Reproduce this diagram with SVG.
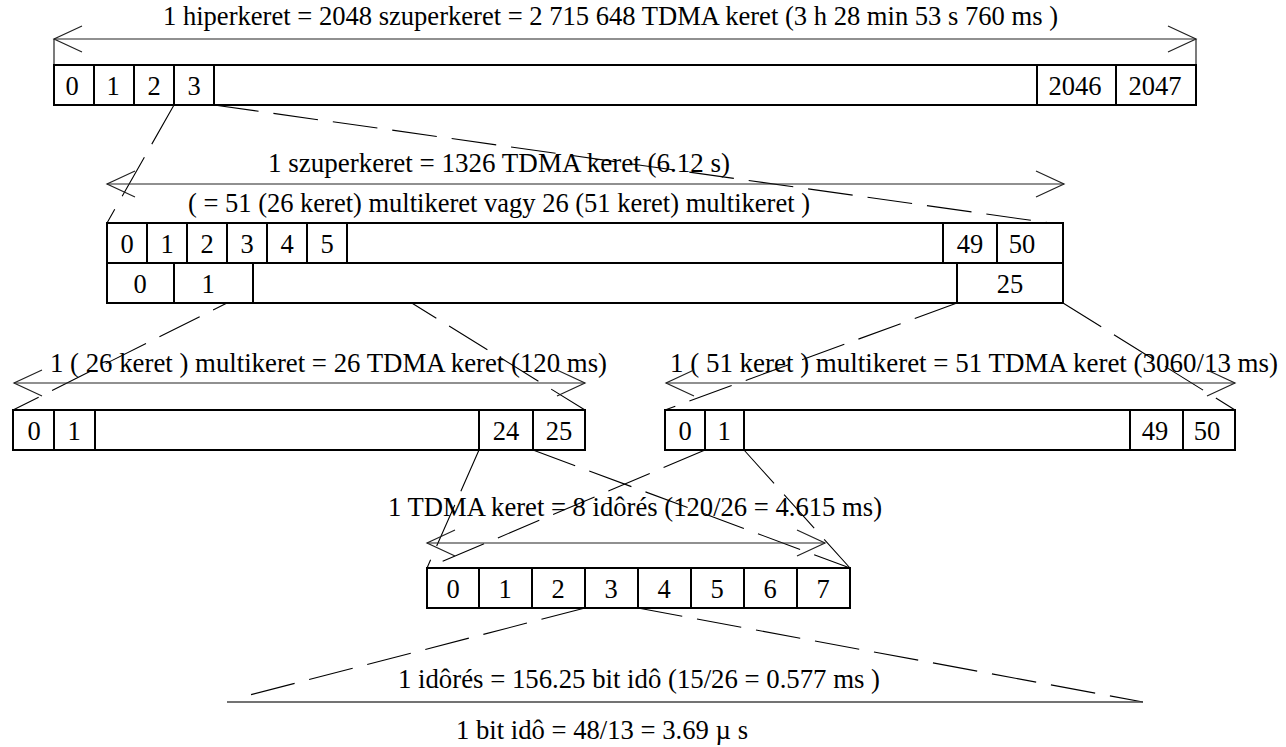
<svg xmlns="http://www.w3.org/2000/svg" width="1286" height="747" viewBox="0 0 1286 747">
<style>
  .t { font-family: 'Liberation Serif', 'Times New Roman', Times, 'DejaVu Serif', serif; font-size: 26.5px; fill: #000; }
  .c { text-anchor: middle; }
  .box { fill: #fff; stroke: #000; stroke-width: 2; }
  .div { stroke: #000; stroke-width: 2; }
  .arr { stroke: #222; stroke-width: 1.2; fill: none; marker-start: url(#head); marker-end: url(#head); }
  .thin { stroke: #222; stroke-width: 1.2; fill: none; }
  .dash { stroke: #000; stroke-width: 1.1; fill: none; stroke-dasharray: 45 15; }
</style>
<defs>
  <marker id="head" markerUnits="userSpaceOnUse" viewBox="-30 -15 32 30" refX="0" refY="0" markerWidth="32" markerHeight="30" orient="auto-start-reverse">
    <path d="M-28,-13 L0,0 L-28,13" fill="none" stroke="#222" stroke-width="1.2"/>
  </marker>
</defs>
<rect width="1286" height="747" fill="#fff"/>

<g id="connectors">
  <line class="dash" x1="174" y1="105" x2="107" y2="223"/>
  <line class="dash" x1="214" y1="105" x2="1050" y2="223"/>
  <line class="dash" x1="307" y1="263" x2="13" y2="410"/>
  <line class="dash" x1="347" y1="263" x2="585" y2="410"/>
  <line class="dash" x1="957" y1="303" x2="665" y2="410"/>
  <line class="dash" x1="1063" y1="303" x2="1235" y2="410"/>
  <line class="dash" x1="479" y1="450" x2="427" y2="568"/>
  <line class="dash" x1="533" y1="450" x2="850" y2="568"/>
  <line class="dash" x1="705" y1="450" x2="427" y2="568"/>
  <line class="dash" x1="744" y1="450" x2="850" y2="568"/>
  <line class="dash" x1="585" y1="608" x2="242" y2="697"/>
  <line class="dash" x1="638" y1="608" x2="1143" y2="702"/>
</g>

<g id="hyperframe" font-family="Liberation Serif, serif">
  <text class="t" x="163" y="25" textLength="895" lengthAdjust="spacingAndGlyphs">1 hiperkeret = 2048 szuperkeret = 2 715 648 TDMA keret (3 h 28 min 53 s 760 ms )</text>
  <line class="arr" x1="54" y1="39" x2="1196" y2="39"/>
  <line class="thin" x1="54" y1="39" x2="54" y2="65"/>
  <line class="thin" x1="1196" y1="39" x2="1196" y2="65"/>
  <rect class="box" x="54" y="65" width="1142" height="40"/>
  <line class="div" x1="94" y1="65" x2="94" y2="105"/>
  <line class="div" x1="134" y1="65" x2="134" y2="105"/>
  <line class="div" x1="174" y1="65" x2="174" y2="105"/>
  <line class="div" x1="214" y1="65" x2="214" y2="105"/>
  <line class="div" x1="1037" y1="65" x2="1037" y2="105"/>
  <line class="div" x1="1116" y1="65" x2="1116" y2="105"/>
  <text class="t c" x="72" y="95">0</text>
  <text class="t c" x="113" y="95">1</text>
  <text class="t c" x="154" y="95">2</text>
  <text class="t c" x="194" y="95">3</text>
  <text class="t c" x="1075" y="95">2046</text>
  <text class="t c" x="1155" y="95">2047</text>
</g>

<g id="superframe" font-family="Liberation Serif, serif">
  <text class="t" x="268" y="172" textLength="462" lengthAdjust="spacingAndGlyphs">1 szuperkeret = 1326 TDMA keret (6.12 s)</text>
  <line class="arr" x1="107" y1="184" x2="1064" y2="184"/>
  <text class="t" x="188" y="212" textLength="622" lengthAdjust="spacingAndGlyphs">( = 51 (26 keret) multikeret vagy 26 (51 keret) multikeret )</text>
  <rect class="box" x="107" y="223" width="956" height="80"/>
  <line class="div" x1="107" y1="263" x2="1063" y2="263"/>
  <line class="div" x1="147" y1="223" x2="147" y2="263"/>
  <line class="div" x1="187" y1="223" x2="187" y2="263"/>
  <line class="div" x1="227" y1="223" x2="227" y2="263"/>
  <line class="div" x1="267" y1="223" x2="267" y2="263"/>
  <line class="div" x1="307" y1="223" x2="307" y2="263"/>
  <line class="div" x1="347" y1="223" x2="347" y2="263"/>
  <line class="div" x1="943" y1="223" x2="943" y2="263"/>
  <line class="div" x1="997" y1="223" x2="997" y2="263"/>
  <line class="div" x1="174" y1="263" x2="174" y2="303"/>
  <line class="div" x1="253" y1="263" x2="253" y2="303"/>
  <line class="div" x1="957" y1="263" x2="957" y2="303"/>
  <text class="t c" x="127" y="253">0</text>
  <text class="t c" x="167" y="253">1</text>
  <text class="t c" x="207" y="253">2</text>
  <text class="t c" x="247" y="253">3</text>
  <text class="t c" x="287" y="253">4</text>
  <text class="t c" x="327" y="253">5</text>
  <text class="t c" x="970" y="253">49</text>
  <text class="t c" x="1022" y="253">50</text>
  <text class="t c" x="140" y="293">0</text>
  <text class="t c" x="208" y="293">1</text>
  <text class="t c" x="1010" y="293">25</text>
</g>

<g id="multiframe26" font-family="Liberation Serif, serif">
  <text class="t" x="50" y="372" textLength="557" lengthAdjust="spacingAndGlyphs">1 ( 26 keret ) multikeret = 26 TDMA keret (120 ms)</text>
  <line class="arr" x1="14" y1="383" x2="585" y2="383"/>
  <rect class="box" x="13" y="410" width="572" height="40"/>
  <line class="div" x1="54" y1="410" x2="54" y2="450"/>
  <line class="div" x1="95" y1="410" x2="95" y2="450"/>
  <line class="div" x1="479" y1="410" x2="479" y2="450"/>
  <line class="div" x1="533" y1="410" x2="533" y2="450"/>
  <text class="t c" x="34" y="440">0</text>
  <text class="t c" x="74" y="440">1</text>
  <text class="t c" x="506" y="440">24</text>
  <text class="t c" x="559" y="440">25</text>
</g>

<g id="multiframe51" font-family="Liberation Serif, serif">
  <text class="t" x="670" y="372" textLength="608" lengthAdjust="spacingAndGlyphs">1 ( 51 keret ) multikeret = 51 TDMA keret (3060/13 ms)</text>
  <line class="arr" x1="666" y1="383" x2="1235" y2="383"/>
  <rect class="box" x="665" y="410" width="570" height="40"/>
  <line class="div" x1="705" y1="410" x2="705" y2="450"/>
  <line class="div" x1="744" y1="410" x2="744" y2="450"/>
  <line class="div" x1="1130" y1="410" x2="1130" y2="450"/>
  <line class="div" x1="1183" y1="410" x2="1183" y2="450"/>
  <text class="t c" x="685" y="440">0</text>
  <text class="t c" x="724" y="440">1</text>
  <text class="t c" x="1155" y="440">49</text>
  <text class="t c" x="1207" y="440">50</text>
</g>

<g id="tdmaframe" font-family="Liberation Serif, serif">
  <text class="t" x="388" y="516" textLength="494" lengthAdjust="spacingAndGlyphs">1 TDMA keret = 8 idôrés (120/26 = 4.615 ms)</text>
  <line class="arr" x1="427" y1="543" x2="825" y2="543"/>
  <rect class="box" x="427" y="568" width="423" height="40"/>
  <line class="div" x1="479" y1="568" x2="479" y2="608"/>
  <line class="div" x1="532" y1="568" x2="532" y2="608"/>
  <line class="div" x1="585" y1="568" x2="585" y2="608"/>
  <line class="div" x1="638" y1="568" x2="638" y2="608"/>
  <line class="div" x1="691" y1="568" x2="691" y2="608"/>
  <line class="div" x1="744" y1="568" x2="744" y2="608"/>
  <line class="div" x1="797" y1="568" x2="797" y2="608"/>
  <text class="t c" x="453" y="598">0</text>
  <text class="t c" x="505" y="598">1</text>
  <text class="t c" x="558" y="598">2</text>
  <text class="t c" x="611" y="598">3</text>
  <text class="t c" x="664" y="598">4</text>
  <text class="t c" x="717" y="598">5</text>
  <text class="t c" x="770" y="598">6</text>
  <text class="t c" x="823" y="598">7</text>
</g>

<g id="timeslot" font-family="Liberation Serif, serif">
  <text class="t" x="398" y="688" textLength="482" lengthAdjust="spacingAndGlyphs">1 idôrés = 156.25 bit idô (15/26 = 0.577 ms )</text>
  <line x1="227" y1="702" x2="1143" y2="702" stroke="#444" stroke-width="1.5"/>
  <text class="t" x="456" y="739" textLength="292" lengthAdjust="spacingAndGlyphs">1 bit idô = 48/13 = 3.69  µ s</text>
</g>
</svg>
